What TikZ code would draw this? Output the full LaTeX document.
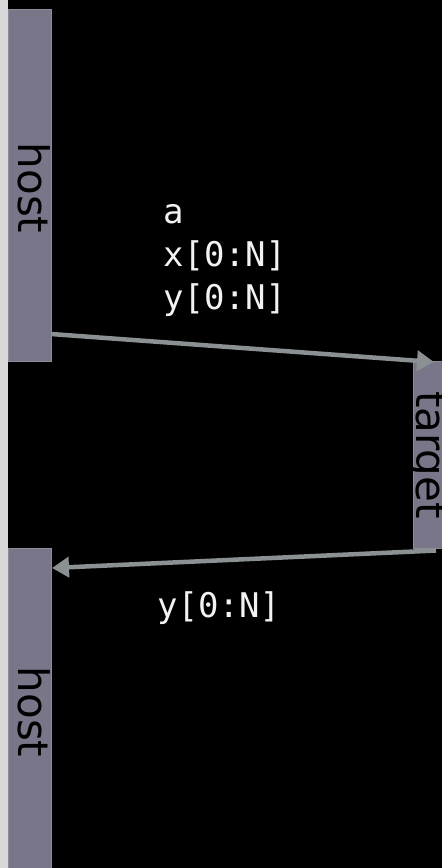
\documentclass[tikz,border=0pt]{standalone}
\usepackage{fontspec}
\setmainfont{DejaVu Sans}
\newfontfamily\monofnt{DejaVu Sans Mono}
\usetikzlibrary{arrows.meta}
\definecolor{boxfill}{HTML}{7A7689}
\definecolor{boxline}{HTML}{8E8C98}
\definecolor{arrowc}{HTML}{8B9093}
\definecolor{stripc}{HTML}{D8D8D8}
\definecolor{txtc}{HTML}{F2F2F2}
\tikzset{
  lifebox/.style={draw=boxline, line width=1pt, fill=boxfill, rectangle, inner sep=0pt, minimum width=43pt},
  boxlabel/.style={rotate=-90, anchor=base, text=black, font=\fontsize{42}{42}\selectfont, inner sep=0pt},
  msg/.style={line width=4.5pt, draw=arrowc, -{Triangle[length=17pt,width=20pt]}},
  msgtext/.style={anchor=base west, text=txtc, font=\monofnt\fontsize{34}{34}\selectfont, inner sep=0pt}
}
\begin{document}
\begin{tikzpicture}[x=1pt,y=-1pt]
\useasboundingbox (0,0) rectangle (442,868);
\clip (0,0) rectangle (442,868);
\fill[black] (0,0) rectangle (442,868);
\fill[stripc] (0,0) rectangle (8,868);
% boxes
\node[lifebox, minimum height=352pt] (host1) at (30,185.5) {};
\node[lifebox, minimum height=332pt] (host2) at (30,714.5) {};
\node[lifebox, minimum height=187pt, minimum width=46pt] (target) at (436.5,455) {};
% labels
\node[boxlabel] (hostlab1) at (18,188) {host};
\node[boxlabel] (hostlab2) at (18,712) {host};
\node[boxlabel] (targetlab) at (416,455) {target};
% message texts
\node[msgtext] (ta) at (163,223) {a};
\node[msgtext] (tx) at (163,266) {x[0:N]};
\node[msgtext] (ty) at (163,309) {y[0:N]};
\node[msgtext] (tback) at (157,617) {y[0:N]};
% connectors
\coordinate (m1s) at (51,334);
\coordinate (m1e) at (434,362);
\coordinate (m2s) at (436,550.5);
\coordinate (m2e) at (52,568);
\draw[msg] (m1s) -- (m1e);
\draw[msg] (m2s) -- (m2e);
\end{tikzpicture}
\end{document}
